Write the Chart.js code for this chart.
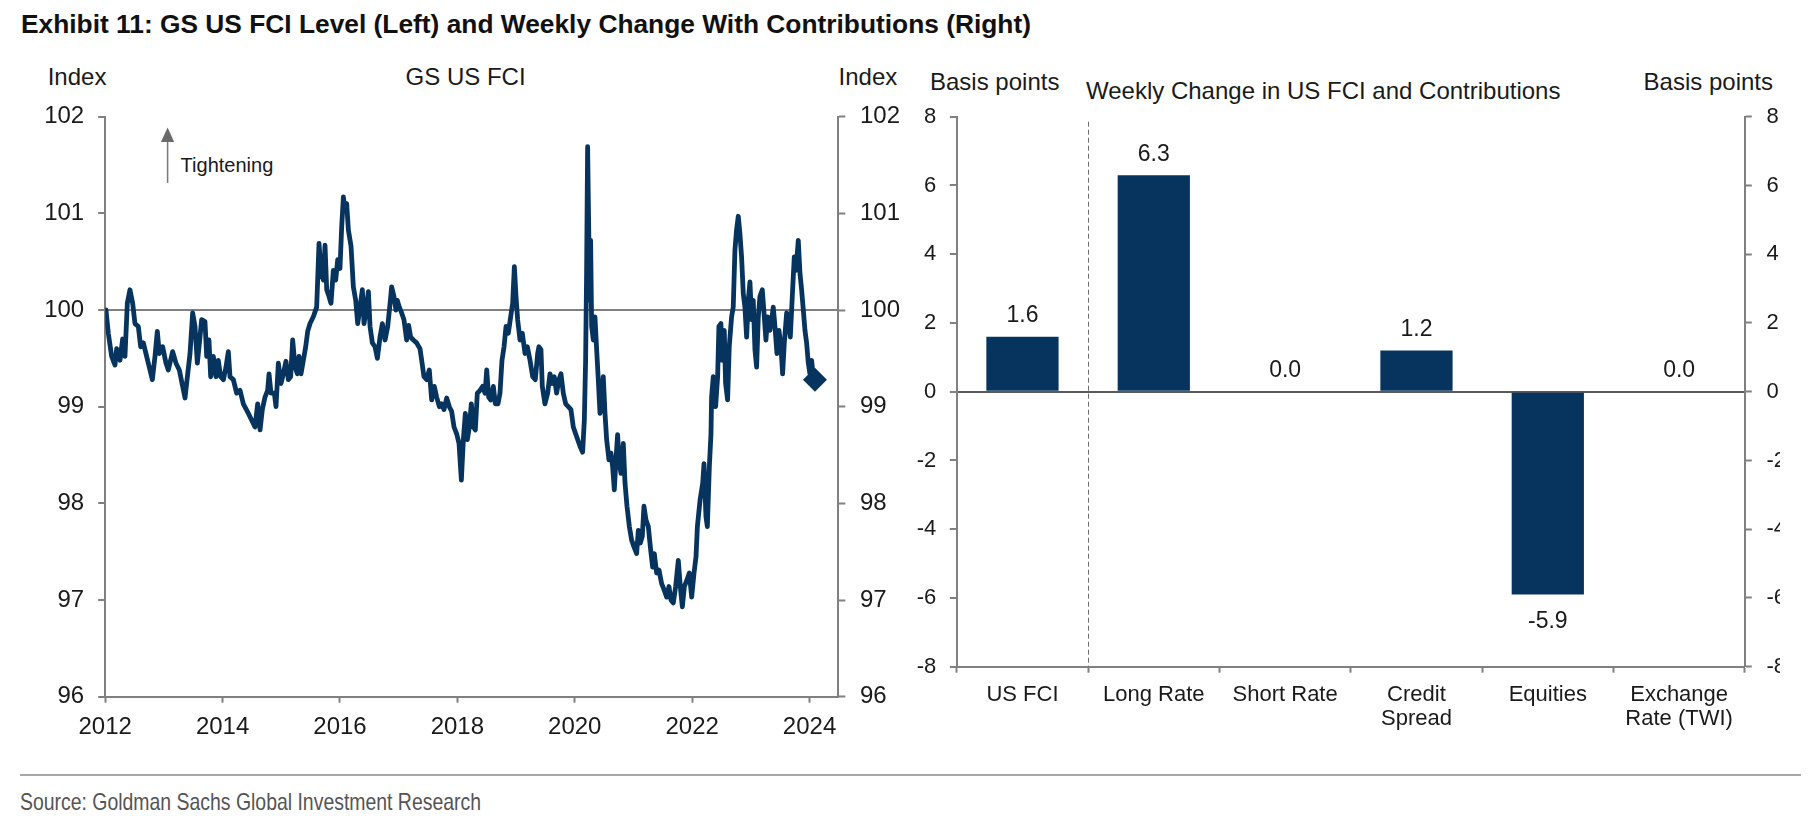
<!DOCTYPE html>
<html><head><meta charset="utf-8">
<script src="https://cdn.jsdelivr.net/npm/chart.js@4.4.1/dist/chart.umd.min.js"></script>
<style>
html,body{margin:0;padding:0;background:#fff;}
body{width:1818px;height:828px;position:relative;overflow:hidden;font-family:'Liberation Sans',Arial,sans-serif;color:#1a1a1a;}
.t{position:absolute;white-space:nowrap;line-height:1;}
canvas{position:absolute;}
</style></head><body>
<div id="title" class="t" style="left:21px;top:10.5px;font-weight:bold;font-size:26.5px;font-family:'Liberation Sans Narrow','Liberation Sans',sans-serif;transform-origin:0 0;color:#111;">Exhibit 11: GS US FCI Level (Left) and Weekly Change With Contributions (Right)</div>
<div class="t" style="left:47.7px;top:64.7px;font-size:24px;">Index</div>
<div class="t" style="left:405.6px;top:64.7px;font-size:24px;">GS US FCI</div>
<div class="t" style="left:838.6px;top:64.7px;font-size:24px;">Index</div>
<div class="t" style="left:930px;top:69.7px;font-size:24px;">Basis points</div>
<div class="t" style="left:1086px;top:79.2px;font-size:24px;">Weekly Change in US FCI and Contributions</div>
<div class="t" style="left:1643.6px;top:69.7px;font-size:24px;">Basis points</div>
<div class="t" style="left:180.6px;top:154.6px;font-size:20px;">Tightening</div>
<svg style="position:absolute;left:0;top:0;" width="300" height="200">
  <line x1="167.6" y1="183" x2="167.6" y2="140" stroke="#7a7a7a" stroke-width="1.5"/>
  <polygon points="167.6,127.5 161,142 174.2,142" fill="#6a6a6a"/>
</svg>
<canvas id="c1" width="900" height="760" style="left:0;top:0;width:900px;height:760px;"></canvas>
<canvas id="c2" width="880" height="760" style="left:900px;top:0;width:880px;height:760px;"></canvas>
<div style="position:absolute;left:20px;top:774px;width:1781px;height:2px;background:#a8a8a8;"></div>
<div id="source" class="t" style="left:20px;top:790.4px;font-size:24px;font-family:'Liberation Sans Narrow','Liberation Sans',sans-serif;transform-origin:0 0;color:#555;">Source: Goldman Sachs Global Investment Research</div>
<script>
// ---------- DATA ----------
const fciDates = [
2012.013,2012.053,2012.110,2012.167,2012.195,2012.252,2012.297,2012.337,2012.377,2012.422,
2012.468,2012.507,2012.564,2012.604,2012.650,2012.706,2012.763,2012.803,2012.848,2012.888,
2012.922,2012.979,2013.036,2013.075,2013.149,2013.206,2013.263,2013.320,2013.360,2013.400,
2013.445,2013.490,2013.530,2013.570,2013.615,2013.643,2013.700,2013.729,2013.768,2013.797,
2013.842,2013.888,2013.927,2013.967,2014.013,2014.058,2014.098,2014.126,2014.183,2014.240,
2014.297,2014.353,2014.439,2014.496,2014.552,2014.598,2014.638,2014.677,2014.723,2014.768,
2014.791,2014.825,2014.882,2014.910,2014.950,2014.995,2015.035,2015.080,2015.120,2015.160,
2015.194,2015.234,2015.274,2015.302,2015.336,2015.376,2015.416,2015.450,2015.490,2015.546,
2015.603,2015.643,2015.677,2015.717,2015.745,2015.774,2015.813,2015.847,2015.887,2015.927,
2015.961,2016.000,2016.029,2016.058,2016.086,2016.114,2016.143,2016.188,2016.228,2016.268,
2016.302,2016.342,2016.381,2016.410,2016.438,2016.484,2016.512,2016.552,2016.597,2016.637,
2016.682,2016.722,2016.768,2016.813,2016.859,2016.880,2016.920,2016.954,2016.977,2017.011,
2017.051,2017.090,2017.136,2017.170,2017.204,2017.250,2017.306,2017.363,2017.392,2017.431,
2017.477,2017.522,2017.562,2017.607,2017.647,2017.693,2017.732,2017.772,2017.818,2017.863,
2017.903,2017.943,2017.988,2018.028,2018.068,2018.102,2018.136,2018.170,2018.204,2018.238,
2018.272,2018.306,2018.340,2018.386,2018.431,2018.471,2018.500,2018.533,2018.567,2018.613,
2018.647,2018.692,2018.726,2018.760,2018.795,2018.829,2018.868,2018.908,2018.942,2018.971,
2018.999,2019.027,2019.067,2019.107,2019.152,2019.192,2019.238,2019.283,2019.328,2019.368,
2019.390,2019.424,2019.447,2019.492,2019.538,2019.578,2019.617,2019.651,2019.691,2019.731,
2019.765,2019.805,2019.845,2019.890,2019.935,2019.975,2020.015,2020.049,2020.089,2020.134,
2020.163,2020.185,2020.202,2020.219,2020.236,2020.254,2020.270,2020.288,2020.316,2020.344,
2020.373,2020.401,2020.430,2020.458,2020.486,2020.515,2020.543,2020.583,2020.617,2020.645,
2020.674,2020.702,2020.730,2020.753,2020.787,2020.827,2020.856,2020.890,2020.930,2020.969,
2021.009,2021.054,2021.083,2021.117,2021.151,2021.179,2021.213,2021.253,2021.293,2021.327,
2021.355,2021.395,2021.435,2021.480,2021.526,2021.566,2021.605,2021.639,2021.679,2021.719,
2021.764,2021.798,2021.833,2021.867,2021.907,2021.952,2021.992,2022.032,2022.066,2022.089,
2022.134,2022.180,2022.202,2022.236,2022.259,2022.293,2022.321,2022.331,2022.360,2022.400,
2022.434,2022.456,2022.490,2022.513,2022.547,2022.570,2022.604,2022.632,2022.672,2022.700,
2022.729,2022.757,2022.786,2022.814,2022.842,2022.871,2022.899,2022.928,2022.956,2022.985,
2023.013,2023.041,2023.070,2023.098,2023.127,2023.155,2023.195,2023.229,2023.257,2023.286,
2023.325,2023.354,2023.382,2023.411,2023.445,2023.479,2023.513,2023.541,2023.570,2023.610,
2023.638,2023.672,2023.706,2023.740,2023.769,2023.808,2023.837,2023.865,2023.894,2023.922,
2023.950,2023.979,2024.007,2024.035,2024.064,2024.092
];
const fciValues = [
100.00,99.76,99.52,99.43,99.60,99.48,99.70,99.52,100.07,100.21,
100.07,99.86,99.83,99.62,99.66,99.52,99.38,99.28,99.52,99.78,
99.55,99.62,99.45,99.38,99.57,99.45,99.38,99.21,99.09,99.31,
99.55,99.97,99.83,99.45,99.72,99.90,99.88,99.52,99.69,99.31,
99.52,99.31,99.48,99.31,99.28,99.41,99.57,99.31,99.28,99.14,
99.17,99.03,98.93,98.86,98.79,99.03,98.76,98.97,99.10,99.17,
99.34,99.14,99.14,99.00,99.45,99.24,99.34,99.47,99.28,99.31,
99.69,99.41,99.34,99.52,99.34,99.48,99.62,99.78,99.86,99.93,
100.03,100.69,100.38,100.31,100.67,100.21,100.14,100.07,100.41,100.31,
100.52,100.43,100.86,101.17,101.03,101.10,100.83,100.66,100.24,100.10,
99.86,100.03,100.21,99.86,99.97,100.19,99.83,99.66,99.62,99.50,
99.72,99.86,99.69,99.83,100.10,100.24,100.14,100.00,100.10,100.03,
99.97,99.90,99.69,99.84,99.72,99.69,99.66,99.60,99.48,99.31,
99.28,99.38,99.07,99.21,99.10,99.00,99.03,98.97,99.09,99.00,
98.95,98.79,98.72,98.62,98.24,98.66,98.93,98.66,98.79,99.03,
98.79,98.76,99.14,99.17,99.21,99.14,99.38,99.10,99.07,99.21,
99.03,99.03,99.14,99.48,99.62,99.83,99.76,99.93,100.07,100.45,
100.14,99.90,99.69,99.76,99.55,99.62,99.48,99.31,99.28,99.55,
99.62,99.59,99.21,99.03,99.14,99.34,99.24,99.31,99.14,99.28,
99.34,99.14,99.03,99.00,98.97,98.79,98.72,98.66,98.59,98.53,
98.86,99.48,100.41,101.69,100.93,100.10,100.72,99.83,99.69,99.93,
99.59,99.28,98.93,99.03,99.31,98.93,98.66,98.45,98.52,98.38,
98.14,98.45,98.71,98.45,98.31,98.62,98.21,97.97,97.76,97.62,
97.55,97.48,97.72,97.59,97.66,97.97,97.83,97.76,97.52,97.34,
97.48,97.28,97.31,97.17,97.10,97.03,97.14,97.00,96.97,97.14,
97.41,97.14,96.93,97.14,97.20,97.28,97.03,97.28,97.45,97.76,
98.03,98.21,98.41,97.86,97.76,98.38,98.72,99.10,99.31,99.00,
99.31,99.83,99.86,99.48,99.79,99.24,99.07,99.62,99.93,100.03,
100.62,100.83,100.97,100.79,100.55,100.17,100.03,99.72,100.10,100.29,
99.90,100.10,99.59,99.41,99.93,100.14,100.21,99.93,99.69,99.93,
99.79,99.90,100.03,99.83,99.55,99.79,99.62,99.34,99.66,99.97,
99.90,99.72,100.14,100.55,100.41,100.72,100.38,100.21,100.00,99.79,
99.66,99.45,99.34,99.48,99.31,99.28
];
const fciTicks = [96, 97, 98, 99, 100, 101, 102];
const yearTicks = [2012, 2014, 2016, 2018, 2020, 2022, 2024];
const yearMin = 2012, yearMax = 2024.49;
const referenceLevel = 100;

const barCategories = ['US FCI', 'Long Rate', 'Short Rate', ['Credit', 'Spread'], 'Equities', ['Exchange', 'Rate (TWI)']];
const barValues = [1.6, 6.3, 0.0, 1.2, -5.9, 0.0];
const bpTicks = [-8, -6, -4, -2, 0, 2, 4, 6, 8];

// ---------- STYLE ----------
const NAVY = '#07345e';
const GRAY = '#808080';
const TXT = '#1a1a1a';
const FONT = "'Liberation Sans', Arial, sans-serif";

function fitWidth(id, w) {
  const el = document.getElementById(id);
  const r = el.getBoundingClientRect().width;
  el.style.transform = 'scaleX(' + (w / r) + ')';
}
fitWidth('title', 1010);
fitWidth('source', 461);

const setTicks = arr => s => { s.ticks = arr.map(v => ({ value: v })); };

// ---------- LEFT CHART ----------
new Chart(document.getElementById('c1'), {
  type: 'line',
  data: {
    datasets: [
      {
        data: fciDates.map((d, i) => ({ x: d, y: fciValues[i] })),
        borderColor: NAVY, borderWidth: 4.8, pointRadius: 0, tension: 0,
        borderJoinStyle: 'round', borderCapStyle: 'round', fill: false
      },
      {
        data: [{ x: fciDates[fciDates.length - 1], y: fciValues[fciValues.length - 1] }],
        showLine: false, pointStyle: 'rectRot', pointRadius: 12,
        backgroundColor: NAVY, borderColor: NAVY, borderWidth: 0
      }
    ]
  },
  options: {
    responsive: false, animation: false, devicePixelRatio: 1,
    layout: { padding: { top: 116.7, left: 0, right: 0, bottom: 0 } },
    plugins: { legend: { display: false }, tooltip: { enabled: false } },
    scales: {
      x: {
        type: 'linear', min: yearMin, max: yearMax,
        afterBuildTicks: setTicks(yearTicks),
        afterFit: s => { s.height = 63.3; },
        grid: { drawOnChartArea: false, tickLength: 6, tickColor: GRAY, tickWidth: 2 },
        border: { color: GRAY, width: 2 },
        ticks: { font: { family: FONT, size: 24 }, color: TXT, padding: 10, maxRotation: 0, callback: v => String(v) }
      },
      y: {
        position: 'left', min: fciTicks[0], max: fciTicks[fciTicks.length - 1],
        afterBuildTicks: setTicks(fciTicks),
        afterFit: s => { s.width = 105.2; },
        grid: {
          color: c => (c.tick && c.tick.value === referenceLevel) ? GRAY : 'rgba(0,0,0,0)',
          lineWidth: 2, tickLength: 7, tickColor: GRAY, tickWidth: 2
        },
        border: { color: GRAY, width: 2 },
        ticks: { font: { family: FONT, size: 24 }, color: TXT, padding: 14, callback: v => String(v) }
      },
      y2: {
        position: 'right', min: fciTicks[0], max: fciTicks[fciTicks.length - 1],
        afterBuildTicks: setTicks(fciTicks),
        afterFit: s => { s.width = 61.7; },
        grid: { drawOnChartArea: false, tickLength: 7, tickColor: GRAY, tickWidth: 2 },
        border: { color: GRAY, width: 2 },
        ticks: { font: { family: FONT, size: 24 }, color: TXT, padding: 14.7, callback: v => String(v) }
      }
    }
  }
});

// ---------- RIGHT CHART ----------
const barLabelPlugin = {
  id: 'barLabels',
  afterDatasetsDraw(chart) {
    const ctx = chart.ctx;
    const meta = chart.getDatasetMeta(0);
    ctx.save();
    ctx.font = '23px ' + FONT;
    ctx.fillStyle = TXT;
    ctx.textAlign = 'center';
    ctx.textBaseline = 'alphabetic';
    meta.data.forEach((el, i) => {
      const v = barValues[i];
      const txt = v.toFixed(1);
      if (v >= 0) ctx.fillText(txt, el.x, el.y - 14.5);
      else ctx.fillText(txt, el.x, el.y + 33);
    });
    ctx.restore();
  }
};
const dividerPlugin = {
  id: 'divider',
  afterDraw(chart) {
    const xs = chart.scales.x, a = chart.chartArea, ctx = chart.ctx;
    const x = Math.round((xs.getPixelForValue(0) + xs.getPixelForValue(1)) / 2) + 0.5;
    ctx.save();
    ctx.strokeStyle = '#6e6e6e';
    ctx.lineWidth = 1;
    ctx.setLineDash([5, 3]);
    ctx.beginPath();
    ctx.moveTo(x, a.top + 5);
    ctx.lineTo(x, a.bottom);
    ctx.stroke();
    ctx.restore();
  }
};

new Chart(document.getElementById('c2'), {
  type: 'bar',
  data: {
    labels: barCategories,
    datasets: [{
      data: barValues, backgroundColor: NAVY, borderWidth: 0,
      barPercentage: 0.55, categoryPercentage: 1.0
    }]
  },
  plugins: [barLabelPlugin, dividerPlugin],
  options: {
    responsive: false, animation: false, devicePixelRatio: 1,
    layout: { padding: { top: 116.7, left: 0, right: 0, bottom: 0 } },
    plugins: { legend: { display: false }, tooltip: { enabled: false } },
    scales: {
      x: {
        afterFit: s => { s.height = 93.3; },
        grid: { drawOnChartArea: false, offset: true, tickLength: 6, tickColor: GRAY, tickWidth: 2 },
        border: { color: GRAY, width: 2 },
        ticks: { font: { family: FONT, size: 22, lineHeight: 1.07 }, color: TXT, padding: 10.5, maxRotation: 0, autoSkip: false }
      },
      y: {
        position: 'left', min: bpTicks[0], max: bpTicks[bpTicks.length - 1],
        afterBuildTicks: setTicks(bpTicks),
        afterFit: s => { s.width = 56.8; },
        grid: {
          color: c => (c.tick && c.tick.value === 0) ? '#5a5a5a' : 'rgba(0,0,0,0)',
          lineWidth: 2, tickLength: 7, tickColor: GRAY, tickWidth: 2
        },
        border: { color: GRAY, width: 2 },
        ticks: { font: { family: FONT, size: 22 }, color: TXT, padding: 13.5, callback: v => String(v) }
      },
      y2: {
        position: 'right', min: bpTicks[0], max: bpTicks[bpTicks.length - 1],
        afterBuildTicks: setTicks(bpTicks),
        afterFit: s => { s.width = 35.2; },
        grid: { drawOnChartArea: false, tickLength: 7, tickColor: GRAY, tickWidth: 2 },
        border: { color: GRAY, width: 2 },
        ticks: { font: { family: FONT, size: 22 }, color: TXT, padding: 14.7, callback: v => String(v) }
      }
    }
  }
});
</script>
</body></html>
